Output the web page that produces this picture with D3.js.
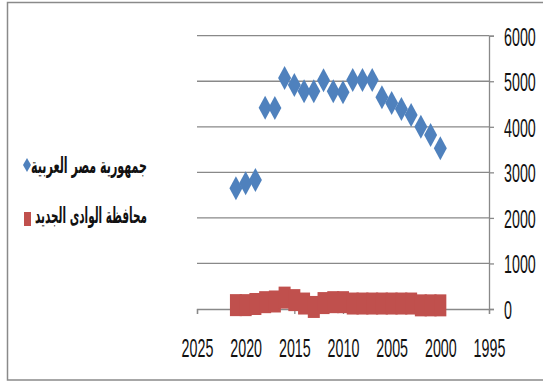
<!DOCTYPE html>
<html>
<head>
<meta charset="utf-8">
<script src="https://cdn.jsdelivr.net/npm/d3@7"></script>
<style>
  html, body { margin: 0; padding: 0; background: #fff; }
  svg { display: block; }
</style>
</head>
<body>
<svg id="chart" width="543" height="383"></svg>
<script>
// Population series by year (thousands)
const years = [2021, 2020, 2019, 2018, 2017, 2016, 2015, 2014, 2013, 2012, 2011,
               2010, 2009, 2008, 2007, 2006, 2005, 2004, 2003, 2002, 2001, 2000];
const egyptValues = [2650, 2760, 2830, 4420, 4410, 5070, 4920, 4780, 4780, 5020, 4780,
                     4760, 5030, 5030, 5030, 4650, 4520, 4390, 4260, 4000, 3820, 3530];
const newValleyValues = [85, 85, 110, 150, 165, 250, 195, 120, 45, 130, 150,
                         150, 120, 120, 120, 120, 120, 120, 120, 80, 80, 80];
const seriesNames = ["جمهورية مصر العربية", "محافظة الوادى الجديد"];
const xTickValues = [2025, 2020, 2015, 2010, 2005, 2000, 1995];
const yTickValues = [0, 1000, 2000, 3000, 4000, 5000, 6000];

const blue = "#4F81BD", red = "#C0504D", grey = "#898989";
const svg = d3.select("#chart");

// Outer chart frame
svg.append("rect")
  .attr("x", 7.5).attr("y", 2.5).attr("width", 560).attr("height", 377.5)
  .attr("fill", "#fff").attr("stroke", "#8a8a8a").attr("stroke-width", 1.5);

const x = d3.scaleLinear().domain([2025, 1995]).range([197, 489]);
const y = d3.scaleLinear().domain([0, 6000]).range([309, 35.7]);

// Horizontal gridlines
svg.append("g").selectAll("line").data(yTickValues.filter(d => d > 0)).join("line")
  .attr("x1", x(2025)).attr("x2", x(1995))
  .attr("y1", d => y(d)).attr("y2", d => y(d))
  .attr("stroke", grey).attr("stroke-width", 1.3);

const numFont = "'Liberation Sans', Arial, sans-serif";

// Right value axis
const yAxis = svg.append("g")
  .attr("transform", `translate(${x(1995)},0)`)
  .call(d3.axisRight(y).tickValues(yTickValues).tickSize(5).tickFormat(d3.format("d")));
yAxis.select(".domain").attr("stroke", grey).attr("stroke-width", 1.3);
yAxis.selectAll(".tick line").attr("stroke", grey).attr("stroke-width", 1.3);
yAxis.selectAll(".tick text")
  .attr("x", null).attr("dy", null)
  .attr("text-anchor", "start")
  .attr("transform", "translate(15,9.5) scale(0.84,1.55)")
  .attr("font-family", numFont).attr("font-size", 17).attr("fill", "#111");

// Bottom year axis (reversed)
const xAxis = svg.append("g")
  .attr("transform", `translate(0,${y(0)})`)
  .call(d3.axisBottom(x).tickValues(xTickValues).tickSize(5).tickFormat(d3.format("d")));
xAxis.select(".domain").attr("stroke", grey).attr("stroke-width", 1.3);
xAxis.selectAll(".tick line").attr("stroke", grey).attr("stroke-width", 1.3);
xAxis.selectAll(".tick text")
  .attr("y", null).attr("dy", null)
  .attr("text-anchor", "middle")
  .attr("transform", "translate(0,48) scale(0.84,1.55)")
  .attr("font-family", numFont).attr("font-size", 17).attr("fill", "#111");

// New Valley governorate: square markers
const sqW = 12, sqH = 22;
svg.append("g").selectAll("rect").data(years.map((yr, i) => ({ yr, v: newValleyValues[i] }))).join("rect")
  .attr("x", d => x(d.yr) - sqW / 2).attr("y", d => y(d.v) - sqH / 2)
  .attr("width", sqW).attr("height", sqH)
  .attr("fill", red);

// Arab Republic of Egypt: diamond markers
const dW = 6.5, dH = 12;
const diamond = `M0,${-dH}L${dW},0L0,${dH}L${-dW},0Z`;
svg.append("g").selectAll("path").data(years.map((yr, i) => ({ yr, v: egyptValues[i] }))).join("path")
  .attr("d", diamond)
  .attr("transform", d => `translate(${x(d.yr)},${y(d.v)})`)
  .attr("fill", blue);

// Legend
const legend = svg.append("g");
const legendRows = [
  { name: seriesNames[0], baseline: 172.5, cy: 165 },
  { name: seriesNames[1], baseline: 223, cy: 219 }
];
legendRows.forEach((r, i) => {
  const t = legend.append("text")
    .attr("font-family", "'DejaVu Sans', sans-serif")
    .attr("font-weight", "bold").attr("font-size", 15)
    .attr("text-anchor", "end").attr("fill", "#111")
    .text(r.name);
  const w = t.node().getComputedTextLength();
  const target = i === 0 ? 116 : 112;
  t.attr("transform", `translate(147,${r.baseline}) scale(${target / w},1.45)`);
  if (i === 0) {
    legend.append("path")
      .attr("d", "M0,-7L4,0L0,7L-4,0Z")
      .attr("transform", `translate(27,${r.cy})`)
      .attr("fill", blue);
  } else {
    legend.append("rect")
      .attr("x", 24).attr("y", r.cy - 7).attr("width", 7).attr("height", 14)
      .attr("fill", red);
  }
});
</script>
</body>
</html>
